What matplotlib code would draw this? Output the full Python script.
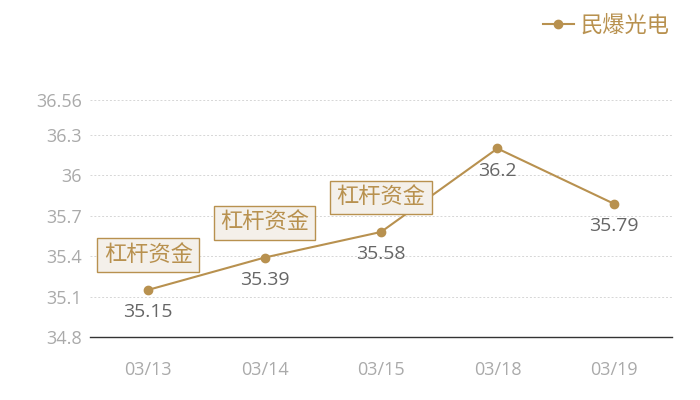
import numpy as np
import matplotlib.pyplot as plt

plt.rcParams['font.family'] = ['Open Sans', 'Noto Sans CJK SC', 'DejaVu Sans']

# data
dates = ["03/13", "03/14", "03/15", "03/18", "03/19"]
values = [35.15, 35.39, 35.58, 36.2, 35.79]
yticks = [34.8, 35.1, 35.4, 35.7, 36, 36.3, 36.56]
ytick_labels = ["34.8", "35.1", "35.4", "35.7", "36", "36.3", "36.56"]
tag_idx = [0, 1, 2]
tag_text = "杠杆资金"
series_name = "民爆光电"

gold = "#b8914f"

fig = plt.figure(figsize=(7, 4), dpi=100)
ax = fig.add_axes([0.1286, 0.1575, 0.8314, 0.5925])

x = np.arange(len(dates))
ax.plot(x, values, color=gold, lw=1.5, marker="o", ms=6, label=series_name)

ax.set_xlim(-0.5, len(dates) - 0.5)
ax.set_ylim(34.8, 36.56)
ax.set_yticks(yticks)
ax.set_yticklabels(ytick_labels)
ax.set_xticks(x)
ax.set_xticklabels(dates)
ax.tick_params(axis="both", length=0, colors="#aaaaaa", labelsize=13)
ax.tick_params(axis="x", pad=17)
ax.tick_params(axis="y", pad=6)

ax.grid(axis="y", color="#d6d6d6", ls=(0, (2, 2)), lw=0.7)
ax.set_axisbelow(True)
for s in ["top", "right", "left"]:
    ax.spines[s].set_visible(False)
ax.spines["bottom"].set_color("#333333")
ax.spines["bottom"].set_linewidth(1)

# value labels under points
for i, v in enumerate(values):
    ax.annotate(f"{v:g}", (x[i], v), xytext=(0, -16), textcoords="offset points",
                ha="center", va="center", color="#666666", fontsize=14)

# tag boxes above points
for i in tag_idx:
    ax.annotate(tag_text, (x[i], values[i]), xytext=(0, 25), textcoords="offset points",
                ha="center", va="center", color=gold, fontsize=16,
                bbox=dict(boxstyle="square,pad=0.28", fc="#f4f0ea", ec=gold, lw=1))

leg = ax.legend(loc="upper right", bbox_to_anchor=(0.985, 1.01),
                bbox_transform=fig.transFigure, frameon=False, fontsize=16,
                labelcolor=gold, handlelength=1.4, handletextpad=0.3)

fig.savefig("out.png", dpi=100)
